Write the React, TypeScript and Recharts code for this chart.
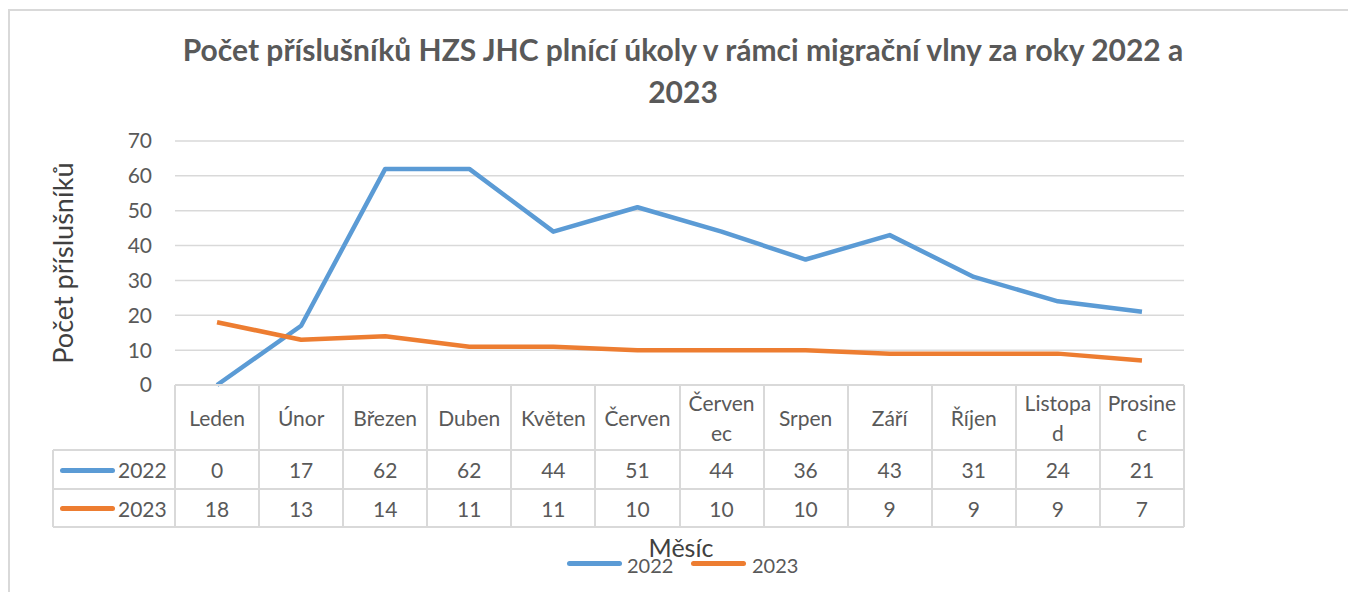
import { LineChart, Line, XAxis, YAxis, CartesianGrid } from 'recharts';

const months = ['Leden', 'Únor', 'Březen', 'Duben', 'Květen', 'Červen', 'Červenec', 'Srpen', 'Září', 'Říjen', 'Listopad', 'Prosinec'];
// labels as wrapped in the data table
const monthLabels = ['Leden', 'Únor', 'Březen', 'Duben', 'Květen', 'Červen', 'Červen\nec', 'Srpen', 'Září', 'Říjen', 'Listopa\nd', 'Prosine\nc'];
const values2022 = [0, 17, 62, 62, 44, 51, 44, 36, 43, 31, 24, 21];
const values2023 = [18, 13, 14, 11, 11, 10, 10, 10, 9, 9, 9, 7];
const yTicks = [0, 10, 20, 30, 40, 50, 60, 70];
const seriesNames = ['2022', '2023'];
const seriesColors = ['#5B9BD5', '#ED7D31'];

const W = 1348;
const H = 592;
const PLOT_L = 175;
const PLOT_R = 1184;
const PLOT_T = 141;
const PLOT_B = 385;
const COL_W = (PLOT_R - PLOT_L) / months.length;
const HEAD_B = 450;
const ROW1_B = 489;
const ROW2_B = 527;
const LABEL_L = 53;
const FONT = 'Lato, "Noto Sans", sans-serif';
const GRAY = '#595959';
const LINE = '#d9d9d9';

const data = months.map((m, i) => ({ month: m, y2022: values2022[i], y2023: values2023[i] }));
const seriesValues = [values2022, values2023];

function HLine({ x1, x2, y }: { x1: number; x2: number; y: number }) {
	return <div style={{ position: 'absolute', left: x1, top: y - 1, width: x2 - x1, height: 2, background: LINE }} />
}

function VLine({ x, y1, y2 }: { x: number; y1: number; y2: number }) {
	return <div style={{ position: 'absolute', left: x - 1, top: y1, width: 2, height: y2 - y1, background: LINE }} />
}

export default function App() {
	return (
		<div style={{ position: 'absolute', left: 0, top: 0, width: W, height: H, background: '#fff', overflow: 'hidden', fontFamily: FONT }}>
			{/* chart frame */}
			<div style={{ position: 'absolute', left: 8, top: 9, width: W, height: H, border: `2px solid ${LINE}`, boxSizing: 'border-box' }} />

			<div style={{ position: 'absolute', left: 0, top: 0 }}>
				<LineChart width={W} height={H} data={data} margin={{ top: PLOT_T, right: W - PLOT_R, bottom: H - PLOT_B, left: PLOT_L - 60 }}>
					<CartesianGrid vertical={false} stroke={LINE} strokeWidth={1.5} />
					<XAxis dataKey="month" hide padding={{ left: COL_W / 2, right: COL_W / 2 }} />
					<YAxis width={60} domain={[0, 70]} ticks={yTicks} interval={0} axisLine={false} tickLine={false}
						tickSize={0} tickMargin={23} tick={{ fill: GRAY, fontSize: 21, fontFamily: FONT }} />
					<Line dataKey="y2022" name="2022" stroke={seriesColors[0]} strokeWidth={4.5} dot={false} isAnimationActive={false} strokeLinejoin="round" />
					<Line dataKey="y2023" name="2023" stroke={seriesColors[1]} strokeWidth={4.5} dot={false} isAnimationActive={false} strokeLinejoin="round" />
				</LineChart>
			</div>

			{/* title */}
			<div style={{ position: 'absolute', left: 0, width: 1366, top: 28, textAlign: 'center', fontSize: 30, fontWeight: 700, color: GRAY, lineHeight: '42px' }}>
				Počet příslušníků HZS JHC plnící úkoly v rámci migrační vlny za roky 2022 a<br />2023
			</div>

			{/* y axis title */}
			<div style={{ position: 'absolute', left: 62, top: 263, transform: 'translate(-50%, -50%) rotate(-90deg)', whiteSpace: 'nowrap', fontSize: 27, color: '#404040' }}>
				Počet příslušníků
			</div>

			{/* data table */}
			<HLine x1={PLOT_L} x2={PLOT_R} y={PLOT_B} />
			<HLine x1={LABEL_L} x2={PLOT_R} y={HEAD_B} />
			<HLine x1={LABEL_L} x2={PLOT_R} y={ROW1_B} />
			<HLine x1={LABEL_L} x2={PLOT_R} y={ROW2_B} />
			<VLine x={LABEL_L} y1={HEAD_B} y2={ROW2_B} />
			{months.map((_, i) => <VLine key={'v' + i} x={PLOT_L + i * COL_W} y1={PLOT_B} y2={ROW2_B} />)}
			<VLine x={PLOT_R} y1={PLOT_B} y2={ROW2_B} />

			{monthLabels.map((lab, i) => (
				<div key={'h' + i} style={{ position: 'absolute', left: PLOT_L + i * COL_W, top: PLOT_B, width: COL_W, height: HEAD_B - PLOT_B, display: 'flex', alignItems: 'center', justifyContent: 'center', textAlign: 'center', whiteSpace: 'pre', fontSize: 21, lineHeight: '30px', color: GRAY }}>
					{lab}
				</div>
			))}

			{seriesValues.map((vals, r) => {
				const top = r === 0 ? HEAD_B : ROW1_B;
				const bottom = r === 0 ? ROW1_B : ROW2_B;
				return (
					<div key={'r' + r}>
						<div style={{ position: 'absolute', left: 60, top: (top + bottom) / 2 - 2, width: 55, height: 5, borderRadius: 3, background: seriesColors[r] }} />
						<div style={{ position: 'absolute', left: 118, top, height: bottom - top, display: 'flex', alignItems: 'center', fontSize: 21, color: GRAY }}>
							{seriesNames[r]}
						</div>
						{vals.map((v, i) => (
							<div key={i} style={{ position: 'absolute', left: PLOT_L + i * COL_W, top, width: COL_W, height: bottom - top, display: 'flex', alignItems: 'center', justifyContent: 'center', fontSize: 21, color: GRAY }}>
								{v}
							</div>
						))}
					</div>
				)
			})}

			{/* x axis title */}
			<div style={{ position: 'absolute', left: 0, width: 1362, top: 532, textAlign: 'center', fontSize: 25, color: '#404040' }}>
				Měsíc
			</div>

			{/* legend */}
			{seriesNames.map((n, i) => (
				<div key={'l' + i}>
					<div style={{ position: 'absolute', left: 567 + i * 124, top: 561, width: 55, height: 5, borderRadius: 3, background: seriesColors[i] }} />
					<div style={{ position: 'absolute', left: 627 + i * 125, top: 552, fontSize: 20, color: GRAY, lineHeight: '26px' }}>{n}</div>
				</div>
			))}
		</div>
	)
}
